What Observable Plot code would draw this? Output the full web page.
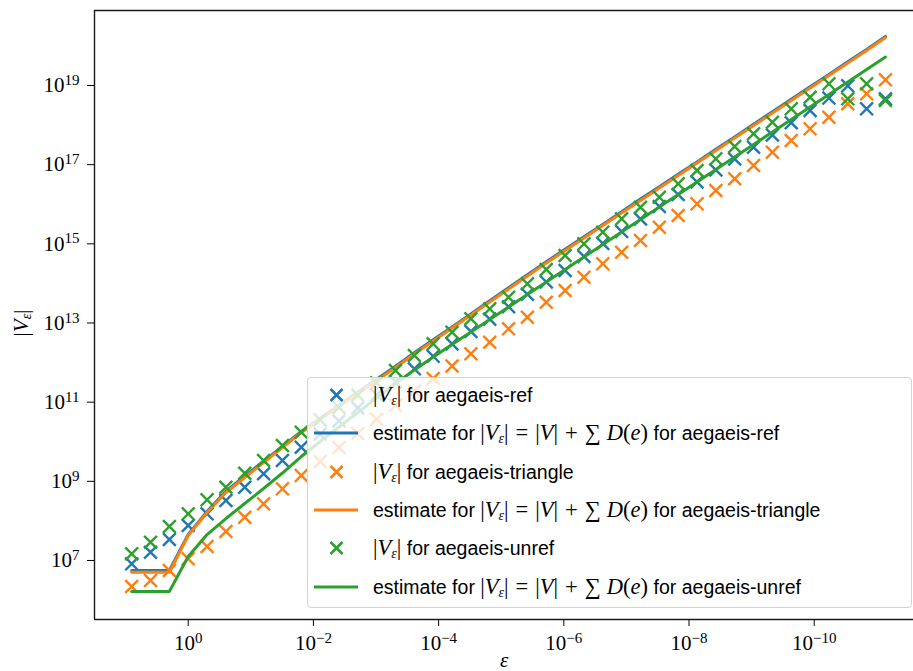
<!DOCTYPE html>
<html>
<head>
<meta charset="utf-8">
<script src="https://cdn.jsdelivr.net/npm/d3@7"></script>
<script src="https://cdn.jsdelivr.net/npm/@observablehq/plot@0.6"></script>
<style>
  html, body { margin: 0; padding: 0; background: #fff; }
  #wrap { position: relative; width: 913px; height: 671px; overflow: hidden; }
  #wrap svg { position: absolute; left: 0; top: 0; }
  .lab { position: absolute; font-family: "Liberation Serif", "DejaVu Serif", serif; font-size: 21px; color: #000; white-space: nowrap; }
  #legend { position: absolute; left: 307px; top: 377px; width: 605px; height: 231px; box-sizing: border-box;
            border: 1px solid #d3d3d3; border-radius: 4px; background: rgba(255,255,255,0.8); }
  .row { position: absolute; left: 0; height: 30px; width: 600px; }
  .row svg { position: absolute; left: 0; top: 0; }
  .txt { position: absolute; left: 65px; top: 0; height: 30px; line-height: 30px; white-space: nowrap;
         font-family: "Liberation Sans", Arial, sans-serif; font-size: 19.5px; color: #000; }
  .m { font-family: "Liberation Serif", "DejaVu Serif", serif; font-size: 22.5px; }
  .m i { font-style: italic; }
  .m .op { display: inline-block; margin: 0 7px; font-style: normal; }
  .m .sum { display: inline-block; margin-right: 6px; }
  .m sub { font-size: 14px; font-style: italic; vertical-align: -3px; line-height: 0; }
</style>
</head>
<body>
<div id="wrap"></div>
<script>
// epsilon = 2^k
const epsExp2 = [3, 2, 1, 0, -1, -2, -3, -4, -5, -6, -7, -8, -9, -10, -11, -12, -13, -14, -15, -16, -17, -18, -19, -20,
  -21, -22, -23, -24, -25, -26, -27, -28, -29, -30, -31, -32, -33, -34, -35, -36, -37];

// log10 |V_eps|
const refCounts = [6.916, 7.209, 7.530, 7.883, 8.179, 8.515, 8.851, 9.190, 9.526, 9.862, 10.193, 10.524, 10.852, 11.183,
  11.511, 11.842, 12.158, 12.472, 12.785, 13.098, 13.411, 13.725, 14.038, 14.326, 14.680, 15.008, 15.311, 15.627,
  15.943, 16.246, 16.562, 16.865, 17.143, 17.439, 17.749, 18.058, 18.368, 18.682, 18.992, 18.411, 18.664];
const refEstimate = [6.746, 6.746, 6.746, 7.66, 8.24, 8.75, 9.13, 9.51, 9.88, 10.26, 10.59, 10.92, 11.25, 11.58, 11.91,
  12.25, 12.58, 12.90, 13.23, 13.56, 13.89, 14.22, 14.55, 14.86, 15.18, 15.49, 15.81, 16.13, 16.44, 16.76, 17.07,
  17.39, 17.70, 18.02, 18.34, 18.65, 18.97, 19.28, 19.60, 19.91, 20.24];
const triCounts = [6.342, 6.494, 6.746, 7.042, 7.353, 7.732, 8.093, 8.432, 8.811, 9.147, 9.500, 9.854, 10.208, 10.567,
  10.920, 11.277, 11.597, 11.913, 12.221, 12.514, 12.853, 13.146, 13.525, 13.821, 14.157, 14.495, 14.788, 15.084,
  15.420, 15.716, 16.011, 16.347, 16.643, 16.979, 17.315, 17.610, 17.906, 18.199, 18.538, 18.790, 19.144];
const triEstimate = [6.703, 6.703, 6.703, 7.631, 8.212, 8.717, 9.096, 9.475, 9.854, 10.233, 10.562, 10.890, 11.218,
  11.547, 11.875, 12.216, 12.545, 12.873, 13.202, 13.530, 13.859, 14.187, 14.515, 14.831, 15.147, 15.463, 15.779,
  16.095, 16.410, 16.726, 17.042, 17.358, 17.674, 17.989, 18.305, 18.621, 18.937, 19.253, 19.568, 19.884, 20.213];
const unrefCounts = [7.168, 7.461, 7.858, 8.179, 8.533, 8.851, 9.205, 9.526, 9.905, 10.241, 10.551, 10.865, 11.175,
  11.489, 11.799, 12.178, 12.474, 12.767, 13.106, 13.358, 13.651, 13.990, 14.351, 14.705, 15.000, 15.294, 15.632,
  15.925, 16.178, 16.516, 16.852, 17.148, 17.459, 17.780, 18.073, 18.411, 18.704, 19.043, 18.664, 19.043, 18.621];
const unrefEstimate = [6.216, 6.216, 6.216, 7.100, 7.656, 8.060, 8.439, 8.818, 9.210, 9.627, 10.006, 10.372, 10.738,
  11.105, 11.471, 11.812, 12.141, 12.456, 12.772, 13.088, 13.404, 13.720, 14.035, 14.351, 14.667, 14.983, 15.299,
  15.615, 15.930, 16.246, 16.562, 16.878, 17.194, 17.509, 17.825, 18.141, 18.457, 18.773, 19.088, 19.404, 19.720];

const seriesNames = ["aegaeis-ref", "aegaeis-triangle", "aegaeis-unref"];
const seriesColors = ["#1f77b4", "#ff7f0e", "#2ca02c"];
const xTicks = [1, 1e-2, 1e-4, 1e-6, 1e-8, 1e-10];
const yTicks = [1e7, 1e9, 1e11, 1e13, 1e15, 1e17, 1e19];
const xDomain = [10 ** 1.497, 10 ** -11.586];
const yDomain = [10 ** 5.509, 10 ** 20.895];

const toRows = (arr) => epsExp2.map((k, i) => ({eps: 2 ** k, v: 10 ** arr[i]}));
const counts = [refCounts, triCounts, unrefCounts];
const estimates = [refEstimate, triEstimate, unrefEstimate];

const marks = [];
for (let s = 0; s < 3; s++) {
  marks.push(Plot.dot(toRows(counts[s]), {x: "eps", y: "v", symbol: "times", r: 5.9, stroke: seriesColors[s], strokeWidth: 2.4}));
  marks.push(Plot.line(toRows(estimates[s]), {x: "eps", y: "v", stroke: seriesColors[s], strokeWidth: 3}));
}
marks.push(Plot.ruleX([xDomain[0]], {stroke: "#1a1a1a", strokeWidth: 1.4}));
marks.push(Plot.ruleY(yDomain, {stroke: "#1a1a1a", strokeWidth: 1.4}));

const fmt = d => "10^" + Math.round(Math.log10(d));

const chart = Plot.plot({
  width: 913, height: 671,
  marginLeft: 94, marginRight: 0, marginTop: 10, marginBottom: 52,
  style: {fontFamily: "'Liberation Serif', 'DejaVu Serif', serif", fontSize: "21px", color: "#000", background: "transparent", overflow: "visible"},
  x: {type: "log", domain: xDomain, ticks: xTicks, tickFormat: fmt, tickSize: 7, tickPadding: 9, label: null},
  y: {type: "log", domain: yDomain, ticks: yTicks, tickFormat: fmt, tickSize: 7, tickPadding: 8, label: null},
  marks
});

// superscript exponents on the tick labels
const ns = "http://www.w3.org/2000/svg";
for (const t of chart.querySelectorAll("text")) {
  const m = /^10\^(.+)$/.exec(t.textContent);
  if (!m) continue;
  while (t.firstChild) t.removeChild(t.firstChild);
  const a = document.createElementNS(ns, "tspan");
  a.textContent = "10";
  const b = document.createElementNS(ns, "tspan");
  b.textContent = m[1].replace("-", "\u2212");
  b.setAttribute("dy", "-0.48em");
  b.setAttribute("font-size", "15");
  t.append(a, b);
}
const wrap = document.getElementById("wrap");
wrap.appendChild(chart);

// axis labels
const yl = document.createElement("div");
yl.className = "lab";
yl.style.left = "9px"; yl.style.top = "310px"; yl.style.transform = "rotate(-90deg)";
yl.innerHTML = '|<i>V</i><sub style="font-size:14px;vertical-align:-3px;font-style:italic">ε</sub>|';
wrap.appendChild(yl);
const xl = document.createElement("div");
xl.className = "lab";
xl.style.left = "500px"; xl.style.top = "648px";
xl.innerHTML = "<i>ε</i>";
wrap.appendChild(xl);

// legend
const legend = document.createElement("div");
legend.id = "legend";
wrap.appendChild(legend);
const mathV = '<span class="m">|<i>V</i><sub>ε</sub>|</span>';
const mathEq = '<span class="m">|<i>V</i><sub>ε</sub>|<span class="op">=</span>|<i>V</i>|<span class="op">+</span><span class="sum">∑</span><i>D</i>(<i>e</i>)</span>';
for (let s = 0; s < 3; s++) {
  for (let j = 0; j < 2; j++) {
    const i = s * 2 + j;
    const row = document.createElement("div");
    row.className = "row";
    row.style.top = (2 + i * 38.3) + "px";
    const c = seriesColors[s];
    const handle = j === 0
      ? `<svg width="60" height="30"><path d="M22.5,9L34.5,21M22.5,21L34.5,9" stroke="${c}" stroke-width="2.6" fill="none"/></svg>`
      : `<svg width="60" height="30"><path d="M6,15H50" stroke="${c}" stroke-width="3" fill="none"/></svg>`;
    const text = j === 0
      ? `${mathV} for ${seriesNames[s]}`
      : `estimate for ${mathEq} for ${seriesNames[s]}`;
    row.innerHTML = handle + `<div class="txt">${text}</div>`;
    legend.appendChild(row);
  }
}
</script>
</body>
</html>
